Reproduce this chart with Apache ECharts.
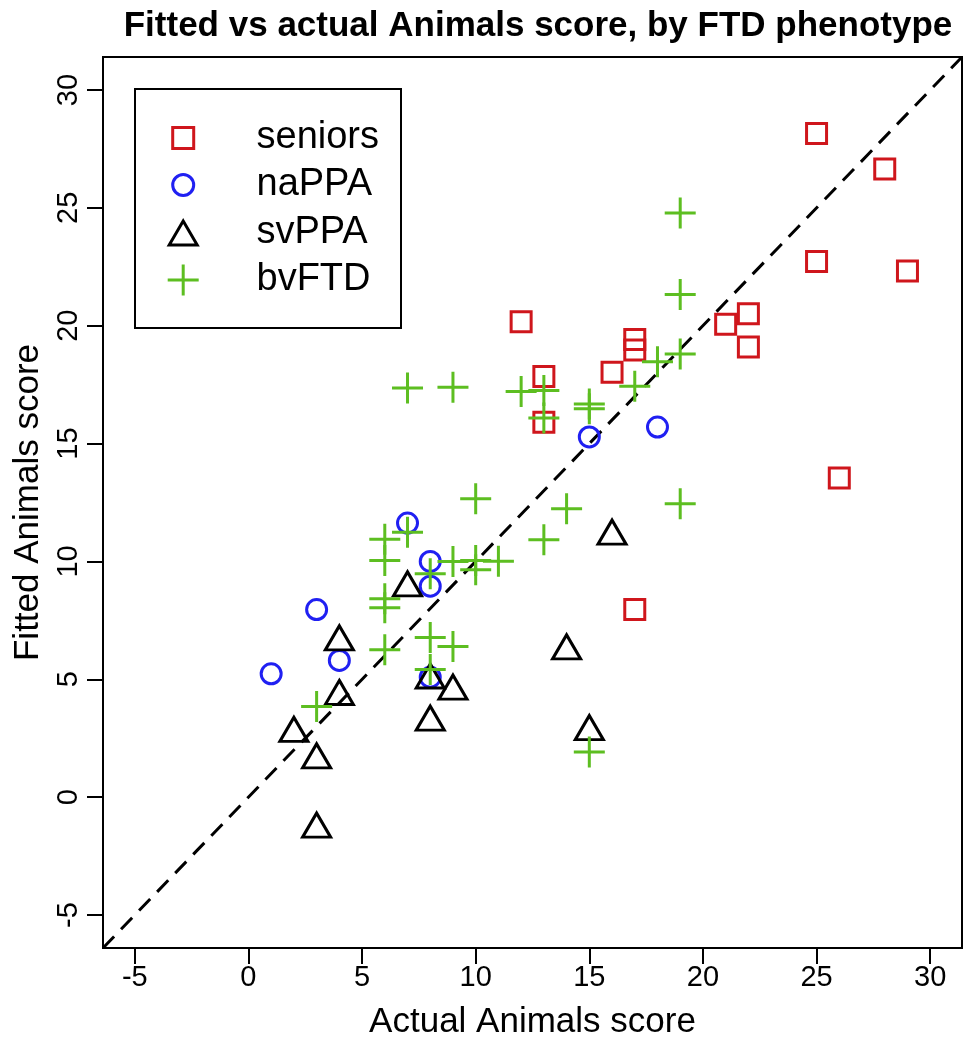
<!DOCTYPE html>
<html><head><meta charset="utf-8">
<script src="https://cdn.jsdelivr.net/npm/echarts@6/dist/echarts.min.js"></script>
<style>html,body{margin:0;padding:0;background:#fff}#c{width:965px;height:1050px}</style>
</head><body><div id="c"></div>
<script>
// ---- data ----
const xTicks = [-5, 0, 5, 10, 15, 20, 25, 30];
const yTicks = [-5, 0, 5, 10, 15, 20, 25, 30];
const axisMin = -6.4, axisMax = 31.4;

const seniorsX = [25, 28, 25, 29, 12, 22, 21, 22, 17, 17, 16, 13, 13, 26, 17];
const seniorsY = [28.15, 26.65, 22.72, 22.32, 20.17, 20.51, 20.06, 19.10, 19.42, 18.97, 18.03, 17.85, 15.90, 13.54, 7.96];

const naPPAX = [15, 18, 7, 8, 8, 3, 4, 1, 8];
const naPPAY = [15.28, 15.70, 11.63, 10.00, 8.95, 7.96, 5.80, 5.23, 5.09];

const svPPAX = [7, 4, 4, 2, 3, 3, 8, 9, 8, 16, 14, 15];
const svPPAY = [8.88, 6.59, 4.27, 2.71, 1.58, -1.36, 4.97, 4.50, 3.18, 11.07, 6.21, 2.78];

const bvFTDX = [19, 19, 19, 18, 17, 15, 15, 13, 13, 12, 19, 14, 13, 11, 10, 7, 6, 6, 8, 9, 10, 10, 6, 6, 6, 8, 9, 8, 3, 15, 7, 9];
const bvFTDY = [24.78, 21.32, 18.80, 18.47, 17.43, 16.68, 16.48, 17.25, 16.08, 17.21, 12.45, 12.24, 10.92, 10.01, 12.66, 11.24, 10.94, 10.04, 9.48, 10.00, 10.04, 9.65, 8.42, 8.04, 6.25, 6.77, 6.39, 5.41, 3.85, 1.91, 17.36, 17.39];

const groupNames = ['seniors', 'naPPA', 'svPPA', 'bvFTD'];
const titleText = 'Fitted vs actual Animals score, by FTD phenotype';
const xName = 'Actual Animals score';
const yName = 'Fitted Animals score';

// ---- chart ----
const FONT = "'Liberation Sans', Helvetica, Arial, sans-serif";
const zip = (a, b) => a.map((v, i) => [v, b[i]]);
const plusPath = 'path://M15,0 L15,30 M0,15 L30,15';
const COLORS = {seniors: '#CF161C', naPPA: '#2020F2', svPPA: '#000000', bvFTD: '#5DBE21'};

const chart = echarts.init(document.getElementById('c'), null, {renderer: 'canvas'});

function axisCommon(ticks) {
  return {
    type: 'value', min: axisMin, max: axisMax,
    splitLine: {show: false},
    axisLine: {show: true, onZero: false, lineStyle: {color: '#000', width: 2}},
    axisTick: {show: true, customValues: ticks, length: 16, inside: false, lineStyle: {color: '#000', width: 2}},
    axisLabel: {customValues: ticks, color: '#000', fontSize: 29, fontFamily: FONT},
    nameLocation: 'middle',
    nameTextStyle: {color: '#000', fontSize: 35, fontFamily: FONT}
  };
}

const xAxis = Object.assign(axisCommon(xTicks), {name: xName, nameGap: 57});
xAxis.axisLabel.margin = 15;
const yAxis = Object.assign(axisCommon(yTicks), {name: yName, nameGap: 57});
yAxis.axisLabel.margin = 20;
yAxis.axisLabel.rotate = 90;

// legend rows: one legend per group so each icon can have its own size
const legendRows = [
  {name: 'seniors', w: 21, h: 21, cy: 138},
  {name: 'naPPA', w: 21, h: 21, cy: 185},
  {name: 'svPPA', w: 28, h: 24, cy: 233},
  {name: 'bvFTD', w: 31, h: 31, cy: 280}
];
const LEG_FS = 38, ICON_CX = 181.7, TEXT_X = 255;
const legends = legendRows.map(r => ({
  data: [r.name], orient: 'vertical', padding: 0, selectedMode: false,
  left: ICON_CX - r.w / 2, top: r.cy - Math.max(r.h, LEG_FS) / 2,
  itemWidth: r.w, itemHeight: r.h, symbolKeepAspect: false,
  itemStyle: {borderWidth: 3, borderColor: COLORS[r.name], color: 'rgba(0,0,0,0)', opacity: 1},
  textStyle: {fontSize: LEG_FS, lineHeight: LEG_FS, color: '#000', fontFamily: FONT,
    padding: [0, 0, 0, TEXT_X - (ICON_CX + r.w / 2 + 5)]}
}));

function scatter(name, xs, ys, symbol, size, extra) {
  return Object.assign({
    name: name, type: 'scatter', data: zip(xs, ys), symbol: symbol, symbolSize: size, z: 3,
    itemStyle: {color: 'rgba(0,0,0,0)', borderColor: COLORS[name], borderWidth: 3, opacity: 1},
    emphasis: {disabled: true}
  }, extra || {});
}

const option = {
  animation: false,
  backgroundColor: '#fff',
  title: {
    text: titleText, left: 533, top: 4, textAlign: 'center',
    textStyle: {fontSize: 35, fontWeight: 'bold', color: '#000', fontFamily: FONT}
  },
  grid: {left: 103, top: 57, width: 859, height: 891, show: true, borderColor: '#000', borderWidth: 2, backgroundColor: 'transparent'},
  xAxis: xAxis,
  yAxis: yAxis,
  legend: legends,
  graphic: [{
    type: 'rect', shape: {x: 135, y: 89, width: 266, height: 239},
    style: {fill: 'none', stroke: '#000', lineWidth: 2}, z: 100
  }],
  series: [
    {
      name: 'identity', type: 'line', data: [[axisMin, axisMin], [axisMax, axisMax]],
      symbol: 'none', silent: true, z: 1,
      lineStyle: {color: '#000', width: 3, type: [16, 10]}
    },
    scatter('seniors', seniorsX, seniorsY, 'rect', 20),
    scatter('naPPA', naPPAX, naPPAY, 'circle', 20),
    scatter('svPPA', svPPAX, svPPAY, 'triangle', [28, 24], {symbolOffset: [0, -4]}),
    scatter('bvFTD', bvFTDX, bvFTDY, plusPath, 31)
  ]
};
chart.setOption(option);
</script>
</body></html>
